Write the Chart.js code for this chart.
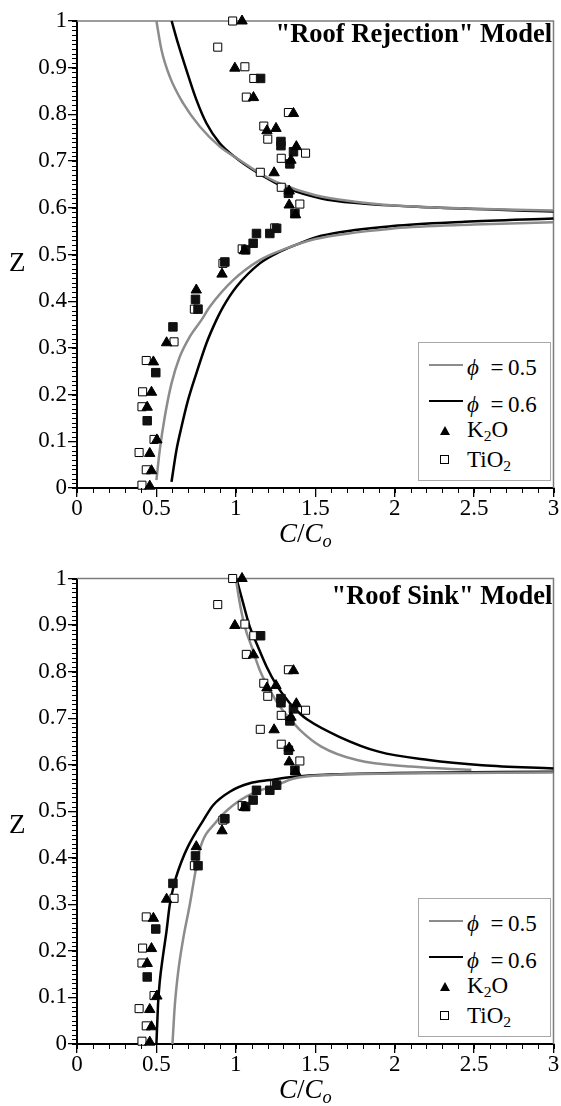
<!DOCTYPE html>
<html>
<head>
<meta charset="utf-8">
<script src="https://cdn.jsdelivr.net/npm/chart.js@4.4.1/dist/chart.umd.min.js"></script>
<style>
  body { margin: 0; background: #fff; width: 561px; height: 1106px; overflow: hidden; position: relative;
         font-family: "Liberation Serif", "Times New Roman", serif; color: #000; }
  .panel { position: absolute; left: 0; width: 561px; height: 553px; }
  .panel canvas { position: absolute; left: 0; top: 0; }
  .txt { position: absolute; line-height: 1; white-space: nowrap; }
  .legend { position: absolute; border: 1.5px solid #a8a8a8; background: #fff; box-sizing: border-box; }
  .legend .ln { position: absolute; height: 0; }
  .legend .tri { position: absolute; width: 0; height: 0; border-left: 5px solid transparent;
                 border-right: 5px solid transparent; border-bottom: 9px solid #000; }
  .legend .sq { position: absolute; width: 7px; height: 7px; border: 1px solid #000; background: #fff; }
  sub { font-size: 0.68em; vertical-align: -0.28em; line-height: 0; }
</style>
</head>
<body>
<div class="panel" id="p1" style="top:0"><canvas id="c1" width="561" height="553"></canvas></div>
<div class="panel" id="p2" style="top:553px"><canvas id="c2" width="561" height="553"></canvas></div>
<script>
// axis ticks
const xTickValues = [0, 0.5, 1, 1.5, 2, 2.5, 3];
const yTickValues = [0, 0.1, 0.2, 0.3, 0.4, 0.5, 0.6, 0.7, 0.8, 0.9, 1];
const panelTitles = ['"Roof Rejection" Model', '"Roof Sink" Model'];

// measured data, [C/Co, Z]
const k2o = [
  [1.039, 1.0], [0.994, 0.899], [1.111, 0.836], [1.363, 0.802], [1.196, 0.765], [1.253, 0.770],
  [1.381, 0.731], [1.347, 0.702], [1.241, 0.675], [1.336, 0.636], [1.336, 0.606], [1.376, 0.585],
  [1.054, 0.508], [0.913, 0.458], [0.751, 0.424], [0.564, 0.311], [0.481, 0.270], [0.469, 0.205],
  [0.442, 0.173], [0.503, 0.103], [0.458, 0.074], [0.469, 0.037], [0.458, 0.004]
];
const tio2 = [
  [0.980, 1.0], [0.886, 0.944], [1.057, 0.902], [1.113, 0.877], [1.066, 0.837], [1.331, 0.804],
  [1.176, 0.775], [1.201, 0.747], [1.439, 0.717], [1.286, 0.706], [1.154, 0.676], [1.286, 0.644],
  [1.403, 0.608], [1.245, 0.557], [1.040, 0.512], [0.919, 0.481], [0.739, 0.383], [0.611, 0.313],
  [0.436, 0.273], [0.413, 0.206], [0.409, 0.174], [0.485, 0.104], [0.391, 0.076], [0.436, 0.039],
  [0.409, 0.006]
];
// spots where both oxides sit on top of each other (drawn as solid squares)
const overlap = [
  [1.156, 0.877], [1.284, 0.742], [1.284, 0.733], [1.363, 0.720], [1.340, 0.694], [1.331, 0.631],
  [1.372, 0.588], [1.130, 0.545], [1.214, 0.545], [1.257, 0.556], [1.109, 0.524], [1.062, 0.510],
  [0.931, 0.484], [0.746, 0.404], [0.762, 0.383], [0.604, 0.345], [0.496, 0.247], [0.442, 0.144]
];

// "Roof Rejection" model curves
const rejUpper05 = [[0.500, 1.0], [0.532, 0.938], [0.584, 0.881], [0.668, 0.824], [0.773, 0.774], [0.899, 0.731],
  [1.025, 0.702], [1.151, 0.674], [1.277, 0.652], [1.5, 0.627], [1.75, 0.613], [2.0, 0.605], [2.5, 0.598], [3.0, 0.594]];
const rejUpper06 = [[0.596, 1.0], [0.636, 0.952], [0.689, 0.895], [0.752, 0.831], [0.815, 0.781], [0.899, 0.738],
  [1.004, 0.706], [1.109, 0.681], [1.235, 0.656], [1.319, 0.642], [1.538, 0.620], [1.763, 0.610], [2.214, 0.601], [3.0, 0.592]];
const rejLower05 = [[0.500, 0.017], [0.521, 0.081], [0.553, 0.153], [0.595, 0.224], [0.647, 0.281], [0.710, 0.324],
  [0.784, 0.360], [0.836, 0.388], [0.983, 0.445], [1.151, 0.488], [1.319, 0.513], [1.5, 0.533], [2.0, 0.556], [2.5, 0.564], [3.0, 0.569]];
const rejLower06 = [[0.595, 0.013], [0.626, 0.081], [0.658, 0.131], [0.699, 0.188], [0.752, 0.246], [0.815, 0.310],
  [0.878, 0.360], [0.920, 0.388], [1.004, 0.431], [1.151, 0.481], [1.277, 0.506], [1.403, 0.524], [1.538, 0.540],
  [1.989, 0.561], [2.439, 0.570], [3.0, 0.577]];

// "Roof Sink" model curves
const sinkUpper05 = [[1.0, 1.0], [1.025, 0.947], [1.057, 0.896], [1.099, 0.854], [1.151, 0.803], [1.214, 0.760],
  [1.277, 0.725], [1.330, 0.703], [1.403, 0.675], [1.538, 0.639], [1.763, 0.610], [2.101, 0.596], [2.483, 0.589]];
const sinkUpper06 = [[1.004, 1.0], [1.046, 0.947], [1.088, 0.896], [1.130, 0.861], [1.193, 0.811], [1.256, 0.771],
  [1.340, 0.732], [1.403, 0.710], [1.450, 0.697], [1.651, 0.660], [1.899, 0.628], [2.214, 0.610], [2.551, 0.599], [3.0, 0.592]];
const sinkLower05 = [[0.601, 0.0], [0.616, 0.084], [0.637, 0.155], [0.668, 0.225], [0.710, 0.299], [0.742, 0.363],
  [0.773, 0.418], [0.878, 0.478], [0.983, 0.513], [1.109, 0.539], [1.256, 0.556], [1.361, 0.570], [1.6, 0.578],
  [2.0, 0.581], [3.0, 0.583]];
const sinkLower06 = [[0.500, 0.0], [0.510, 0.084], [0.521, 0.134], [0.542, 0.191], [0.563, 0.241], [0.584, 0.299],
  [0.616, 0.349], [0.658, 0.392], [0.700, 0.425], [0.796, 0.481], [0.857, 0.513], [0.962, 0.542], [1.088, 0.560],
  [1.214, 0.567], [1.361, 0.574], [1.6, 0.579], [2.0, 0.582], [3.0, 0.585]];

const GRAY = '#8c8c8c';
const SERIF = '"Liberation Serif", "Times New Roman", serif';

const pts = arr => arr.map(([x, y]) => ({ x, y }));

// frame on top/right + minor tick marks
const axisDecor = {
  id: 'axisDecor',
  beforeDatasetsDraw(chart) {
    const { ctx, chartArea: a } = chart;
    ctx.save();
    ctx.strokeStyle = '#7c7c7c';
    ctx.lineWidth = 1.5;
    ctx.beginPath();
    ctx.moveTo(a.left, a.top);
    ctx.lineTo(a.right, a.top);
    ctx.lineTo(a.right, a.bottom);
    ctx.stroke();
    ctx.restore();
  },
  afterDraw(chart) {
    const { ctx, chartArea: a, scales: { x, y } } = chart;
    ctx.save();
    ctx.strokeStyle = '#000';
    ctx.lineWidth = 1;
    ctx.beginPath();
    for (let i = 0; i <= 30; i++) {
      const px = Math.round(x.getPixelForValue(i / 10)) + 0.5;
      ctx.moveTo(px, a.bottom);
      ctx.lineTo(px, a.bottom + 5);
    }
    for (let i = 0; i <= 100; i++) {
      const py = Math.round(y.getPixelForValue(i / 100)) + 0.5;
      ctx.moveTo(a.left, py);
      ctx.lineTo(a.left - 5, py);
    }
    ctx.stroke();
    ctx.restore();
  }
};

function curve(data, color) {
  return {
    data: pts(data), showLine: true, pointRadius: 0, borderColor: color, borderWidth: 2.5,
    cubicInterpolationMode: 'monotone', order: 10, clip: false
  };
}

function makeChart(canvas, padTop, xAxisHeight, curves) {
  return new Chart(canvas, {
    type: 'scatter',
    data: {
      datasets: [
        curve(curves[0], GRAY), curve(curves[1], '#000'), curve(curves[2], GRAY), curve(curves[3], '#000'),
        { label: 'TiO2', data: pts(tio2), pointStyle: 'rect', pointRadius: 5.7, backgroundColor: '#fff',
          borderColor: '#000', borderWidth: 1, order: 3, clip: false },
        { label: 'overlap', data: pts(overlap), pointStyle: 'rect', pointRadius: 6, backgroundColor: '#111',
          borderColor: '#111', borderWidth: 1, order: 2, clip: false },
        { label: 'K2O', data: pts(k2o), pointStyle: 'triangle', pointRadius: 6, backgroundColor: '#000',
          borderColor: '#000', borderWidth: 1, order: 1, clip: false }
      ]
    },
    options: {
      responsive: false,
      animation: false,
      layout: { padding: { top: padTop, right: 7.5, left: 0, bottom: 0 } },
      plugins: { legend: { display: false }, tooltip: { enabled: false } },
      scales: {
        x: {
          type: 'linear', min: 0, max: 3,
          afterBuildTicks: s => { s.ticks = xTickValues.map(v => ({ value: v })); },
          afterFit: s => { s.height = xAxisHeight; },
          border: { color: '#000', width: 2 },
          grid: { drawOnChartArea: false, tickLength: 9, color: '#000', lineWidth: 1.3 },
          ticks: { color: '#000', padding: 0, maxRotation: 0, autoSkip: false,
                   font: { family: SERIF, size: 23, lineHeight: 1 }, callback: v => String(v) }
        },
        y: {
          type: 'linear', min: 0, max: 1,
          afterBuildTicks: s => { s.ticks = yTickValues.map(v => ({ value: v })); },
          afterFit: s => { s.width = 77; },
          border: { color: '#000', width: 2 },
          grid: { drawOnChartArea: false, tickLength: 9, color: '#000', lineWidth: 1.3 },
          ticks: { color: '#000', padding: 1, autoSkip: false,
                   font: { family: SERIF, size: 23, lineHeight: 1 }, callback: v => String(+v.toFixed(1)) }
        }
      }
    },
    plugins: [axisDecor]
  });
}

// place a text element by its baseline
function addText(parent, html, left, baseline, size, extra) {
  const el = document.createElement('div');
  el.className = 'txt';
  el.innerHTML = html;
  el.style.fontSize = size + 'px';
  el.style.left = left + 'px';
  el.style.top = (baseline - 0.8375 * size) + 'px';
  if (extra) Object.assign(el.style, extra);
  parent.appendChild(el);
  return el;
}

function decorate(panelId, chart, title, titleDrop, zDrop) {
  const panel = document.getElementById(panelId);
  const a = chart.chartArea;

  // title in upper right of the plot
  const t = addText(panel, title, 0, a.top + titleDrop, 26.5, { fontWeight: 'bold' });
  t.style.left = (a.right - t.offsetWidth - 1) + 'px';

  // axis titles
  addText(panel, 'Z', 9, (a.top + a.bottom) / 2 + zDrop, 27);
  addText(panel, '<i>C</i>/<i>C<sub>o</sub></i>', 279, a.bottom + 55, 27);

  // legend box
  const lg = document.createElement('div');
  lg.className = 'legend';
  Object.assign(lg.style, { left: '418px', top: (a.bottom - 146) + 'px', width: '133px', height: '139px' });
  panel.appendChild(lg);

  const l1 = document.createElement('div');
  l1.className = 'ln';
  Object.assign(l1.style, { left: '10px', top: '21px', width: '34px', borderTop: '2.5px solid ' + GRAY });
  lg.appendChild(l1);
  const l2 = document.createElement('div');
  l2.className = 'ln';
  Object.assign(l2.style, { left: '10px', top: '57px', width: '34px', borderTop: '2.5px solid #000' });
  lg.appendChild(l2);
  const tri = document.createElement('div');
  tri.className = 'tri';
  Object.assign(tri.style, { left: '21px', top: '83px' });
  lg.appendChild(tri);
  const sq = document.createElement('div');
  sq.className = 'sq';
  Object.assign(sq.style, { left: '21px', top: '112px' });
  lg.appendChild(sq);

  addText(lg, '<i>ϕ</i>&nbsp;&nbsp;=&thinsp;0.5', 48, 32, 23);
  addText(lg, '<i>ϕ</i>&nbsp;&nbsp;=&thinsp;0.6', 48, 69, 23);
  addText(lg, 'K<sub>2</sub>O', 48, 94, 23);
  addText(lg, 'TiO<sub>2</sub>', 48, 124, 23);
}

const chartTop = makeChart(document.getElementById('c1'), 21, 65,
  [rejUpper05, rejUpper06, rejLower05, rejLower06]);
const chartBottom = makeChart(document.getElementById('c2'), 25.5, 62,
  [sinkUpper05, sinkUpper06, sinkLower05, sinkLower06]);

decorate('p1', chartTop, panelTitles[0], 21, 17);
decorate('p2', chartBottom, panelTitles[1], 26, 22);

// make sure the canvas tick labels use the serif face once it is ready
document.fonts.load('23px "Liberation Serif"').then(() => {
  chartTop.update();
  chartBottom.update();
});
</script>
</body>
</html>
